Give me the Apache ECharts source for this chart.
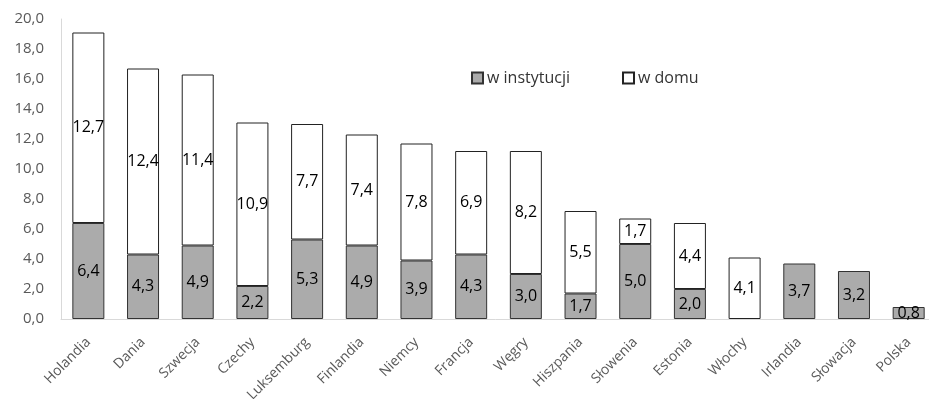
<!DOCTYPE html>
<html>
<head>
<meta charset="utf-8">
<script src="https://cdn.jsdelivr.net/npm/echarts@6/dist/echarts.min.js"></script>
<style>
  html, body { margin: 0; padding: 0; background: #fff; }
  #chart { width: 929px; height: 399px; }
</style>
</head>
<body>
<div id="chart"></div>
<script>
const countries = ['Holandia', 'Dania', 'Szwecja', 'Czechy', 'Luksemburg', 'Finlandia', 'Niemcy', 'Francja',
  'Węgry', 'Hiszpania', 'Słowenia', 'Estonia', 'Włochy', 'Irlandia', 'Słowacja', 'Polska'];
const inInstitution = [6.4, 4.3, 4.9, 2.2, 5.3, 4.9, 3.9, 4.3, 3.0, 1.7, 5.0, 2.0, null, 3.7, 3.2, 0.8];
const atHome = [12.7, 12.4, 11.4, 10.9, 7.7, 7.4, 7.8, 6.9, 8.2, 5.5, 1.7, 4.4, 4.1, null, null, null];
const yTicks = [0, 2, 4, 6, 8, 10, 12, 14, 16, 18, 20];

const FONT = '"Open Sans", "Noto Sans", sans-serif';
const fmt = v => v.toFixed(1).replace('.', ',');

const chart = echarts.init(document.getElementById('chart'), null, { renderer: 'canvas' });

const segLabel = {
  show: true,
  position: 'inside',
  color: '#000',
  fontFamily: FONT,
  fontSize: 16,
  formatter: p => (p.value == null ? '' : fmt(p.value))
};

chart.setOption({
  animation: false,
  grid: {
    left: 61, top: 19, width: 875, height: 300,
    containLabel: false,
    outerBoundsMode: 'none'
  },
  legend: {
    left: 466,
    top: 65,
    itemGap: 52,
    itemWidth: 11,
    itemHeight: 11,
    icon: 'rect',
    textStyle: { fontFamily: FONT, fontSize: 16, color: '#333', padding: [0, 0, 0, -1] },
    data: ['w instytucji', 'w domu']
  },
  xAxis: {
    type: 'category',
    data: countries,
    axisLine: { show: true, lineStyle: { color: '#d9d9d9', width: 1 } },
    axisTick: { show: false },
    axisLabel: {
      interval: 0,
      rotate: 45,
      color: '#595959',
      fontFamily: FONT,
      fontSize: 14,
      margin: 21
    }
  },
  yAxis: {
    type: 'value',
    min: yTicks[0],
    max: yTicks[yTicks.length - 1],
    interval: 2,
    axisLine: { show: true, lineStyle: { color: '#d9d9d9', width: 1 } },
    axisTick: { show: false },
    splitLine: { show: false },
    axisLabel: {
      color: '#595959',
      fontFamily: FONT,
      fontSize: 15,
      margin: 17,
      formatter: v => fmt(v)
    }
  },
  series: [
    {
      name: 'w instytucji',
      type: 'bar',
      stack: 'total',
      barWidth: 32,
      data: inInstitution,
      itemStyle: { color: '#ababab', borderColor: '#333', borderWidth: 1 },
      label: segLabel
    },
    {
      name: 'w domu',
      type: 'bar',
      stack: 'total',
      barWidth: 32,
      data: atHome,
      itemStyle: { color: '#ffffff', borderColor: '#222', borderWidth: 1 },
      label: segLabel
    }
  ]
});
</script>
</body>
</html>
